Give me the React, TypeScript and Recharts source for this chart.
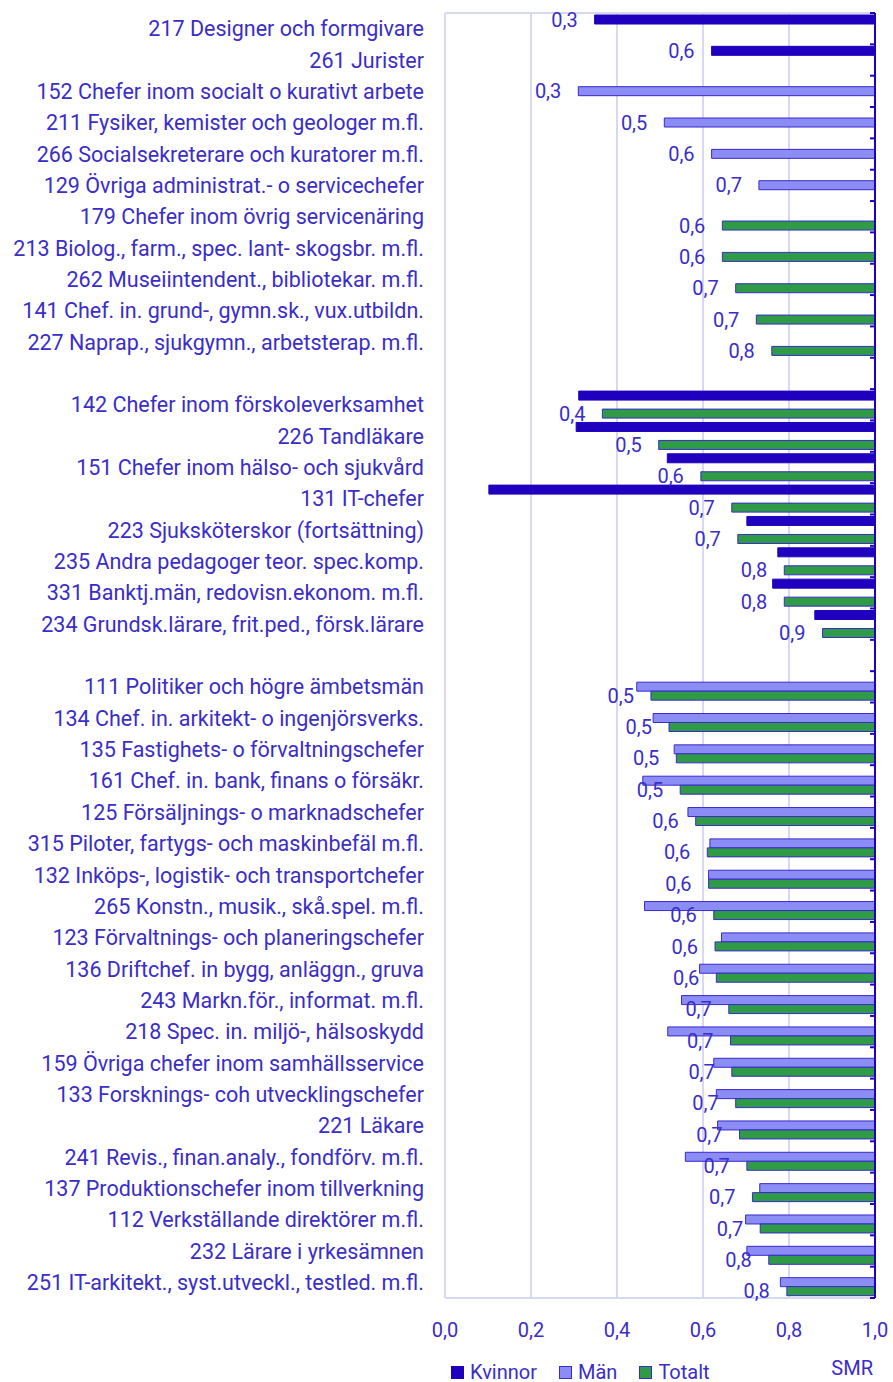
import { BarChart, Bar, XAxis, YAxis, CartesianGrid, Legend, LabelList } from 'recharts';

const categories = [
  '217 Designer och formgivare',
  '261 Jurister',
  '152 Chefer inom socialt o kurativt arbete',
  '211 Fysiker, kemister och geologer m.fl.',
  '266 Socialsekreterare och kuratorer m.fl.',
  '129 Övriga administrat.- o servicechefer',
  '179 Chefer inom övrig servicenäring',
  '213 Biolog., farm., spec. lant- skogsbr. m.fl.',
  '262 Museiintendent., bibliotekar. m.fl.',
  '141 Chef. in. grund-, gymn.sk., vux.utbildn.',
  '227 Naprap., sjukgymn., arbetsterap. m.fl.',
  '',
  '142 Chefer inom förskoleverksamhet',
  '226 Tandläkare',
  '151 Chefer inom hälso- och sjukvård',
  '131 IT-chefer',
  '223 Sjuksköterskor (fortsättning)',
  '235 Andra pedagoger teor. spec.komp.',
  '331 Banktj.män, redovisn.ekonom. m.fl.',
  '234 Grundsk.lärare, frit.ped., försk.lärare',
  ' ',
  '111 Politiker och högre ämbetsmän',
  '134 Chef. in. arkitekt- o ingenjörsverks.',
  '135 Fastighets- o förvaltningschefer',
  '161 Chef. in. bank, finans o försäkr.',
  '125 Försäljnings- o marknadschefer',
  '315 Piloter, fartygs- och maskinbefäl m.fl.',
  '132 Inköps-, logistik- och transportchefer',
  '265 Konstn., musik., skå.spel. m.fl.',
  '123 Förvaltnings- och planeringschefer',
  '136 Driftchef. in bygg, anläggn., gruva',
  '243 Markn.för., informat. m.fl.',
  '218 Spec. in. miljö-, hälsoskydd',
  '159 Övriga chefer inom samhällsservice',
  '133 Forsknings- coh utvecklingschefer',
  '221 Läkare',
  '241 Revis., finan.analy., fondförv. m.fl.',
  '137 Produktionschefer inom tillverkning',
  '112 Verkställande direktörer m.fl.',
  '232 Lärare i yrkesämnen',
  '251 IT-arkitekt., syst.utveckl., testled. m.fl.',
];

const _ = null;

const kvinnor = [
  0.348, 0.62, _, _, _, _, _, _, _, _, _, _,
  0.311, 0.305, 0.517, 0.102, 0.702, 0.774, 0.762, 0.86,
  _, _, _, _, _, _, _, _, _, _, _, _, _, _, _, _, _, _, _, _, _,
];

const man = [
  _, _, 0.31, 0.51, 0.62, 0.73, _, _, _, _, _, _,
  _, _, _, _, _, _, _, _, _,
  0.446, 0.484, 0.533, 0.46, 0.565, 0.616, 0.613, 0.464, 0.643, 0.592,
  0.55, 0.518, 0.625, 0.631, 0.634, 0.559, 0.732, 0.699, 0.702, 0.78,
];

const totalt = [
  _, _, _, _, _, _, 0.645, 0.645, 0.676, 0.724, 0.76, _,
  0.366, 0.497, 0.595, 0.667, 0.681, 0.789, 0.789, 0.878, _,
  0.479, 0.521, 0.538, 0.547, 0.583, 0.61, 0.613, 0.625, 0.628, 0.631,
  0.66, 0.664, 0.667, 0.676, 0.685, 0.702, 0.715, 0.733, 0.753, 0.795,
];

const xTicks = [0, 0.2, 0.4, 0.6, 0.8, 1];

const TEXT = '#3A2DC8';
const DARK = '#1E00BE';
const MAN = '#8C8CF5';
const TOT = '#2F9B47';
const GRID = '#D8D8F2';

const fmt = (v: number) => v.toFixed(1).replace('.', ',');

// bars run from the value up to 1,0; the label goes on the last series of each row
const data = categories.map((name, i) => {
  const k = kvinnor[i], m = man[i], t = totalt[i];
  const labelOn = t != null ? 't' : m != null ? 'm' : k != null ? 'k' : '';
  return {
    name,
    k: k != null ? [k, 1] : null,
    m: m != null ? [m, 1] : null,
    t: t != null ? [t, 1] : null,
    labK: labelOn === 'k' ? fmt(k as number) : undefined,
    labM: labelOn === 'm' ? fmt(m as number) : undefined,
    labT: labelOn === 't' ? fmt(t as number) : undefined,
  };
});

const RightTick = (props: any) => {
  const { x, y, payload, index } = props;
  const off = payload.offset || 0;
  return (
    <g>
      <line x1={x - 5} x2={x} y1={y - off} y2={y - off} stroke={DARK} strokeWidth={2} />
      {index === categories.length - 1 && (
        <line x1={x - 5} x2={x} y1={y + off} y2={y + off} stroke={DARK} strokeWidth={2} />
      )}
    </g>
  );
};

const legendItems = [
  { label: 'Kvinnor', fill: DARK, stroke: DARK },
  { label: 'Män', fill: MAN, stroke: '#3A2ACC' },
  { label: 'Totalt', fill: TOT, stroke: '#3A2ACC' },
];

const LegendContent = () => (
  <div style={{ position: 'relative', height: 44, width: 893 }}>
    <div style={{ position: 'absolute', left: 451, top: 24, display: 'flex', gap: 22, alignItems: 'center' }}>
      {legendItems.map((it) => (
        <div key={it.label} style={{ display: 'flex', alignItems: 'center', gap: 6 }}>
          <span style={{ display: 'inline-block', width: 11, height: 11, background: it.fill, border: `1px solid ${it.stroke}` }} />
          <span style={{ color: TEXT, fontSize: 20, lineHeight: '20px' }}>{it.label}</span>
        </div>
      ))}
    </div>
    <div style={{ position: 'absolute', right: 20, top: 20, color: TEXT, fontSize: 20, lineHeight: '20px' }}>SMR</div>
  </div>
);

export default function App() {
  return (
    <div style={{ position: 'absolute', left: 0, top: 0, width: 893, height: 1382, fontFamily: 'Roboto, sans-serif', background: '#fff' }}>
      <BarChart
        width={893}
        height={1382}
        data={data}
        layout="vertical"
        margin={{ top: 13, right: 16, left: 0, bottom: 0 }}
        barCategoryGap={2}
        barGap={0}
      >
        <CartesianGrid
          stroke={GRID}
          strokeWidth={2}
          horizontalCoordinatesGenerator={({ offset }: any) => [offset.top, offset.top + offset.height]}
        />
        <XAxis
          type="number"
          domain={[0, 1]}
          ticks={xTicks}
          tickFormatter={fmt}
          axisLine={false}
          tickLine={false}
          tickSize={0}
          tickMargin={25}
          height={40}
          tick={{ fill: TEXT, fontSize: 20 }}
        />
        <YAxis
          type="category"
          dataKey="name"
          width={445}
          interval={0}
          axisLine={false}
          tickLine={false}
          tickSize={0}
          tickMargin={21}
          tick={{ fill: TEXT, fontSize: 21.5 }}
        />
        <YAxis
          yAxisId="r"
          type="category"
          dataKey="name"
          orientation="right"
          width={2}
          interval={0}
          tickSize={0}
          tickMargin={0}
          tickLine={false}
          axisLine={{ stroke: DARK, strokeWidth: 2 }}
          tick={<RightTick />}
        />
        <Legend verticalAlign="bottom" wrapperStyle={{ left: 0, width: 893 }} content={<LegendContent />} />
        <Bar dataKey="k" fill={DARK} stroke={DARK} strokeWidth={1} isAnimationActive={false}>
          <LabelList dataKey="labK" position="left" offset={17} fill={TEXT} fontSize={20} />
        </Bar>
        <Bar dataKey="m" fill={MAN} stroke="#3A2ACC" strokeWidth={1} isAnimationActive={false}>
          <LabelList dataKey="labM" position="left" offset={17} fill={TEXT} fontSize={20} />
        </Bar>
        <Bar dataKey="t" fill={TOT} stroke="#3A2ACC" strokeWidth={1} isAnimationActive={false}>
          <LabelList dataKey="labT" position="left" offset={17} fill={TEXT} fontSize={20} />
        </Bar>
      </BarChart>
    </div>
  );
}
